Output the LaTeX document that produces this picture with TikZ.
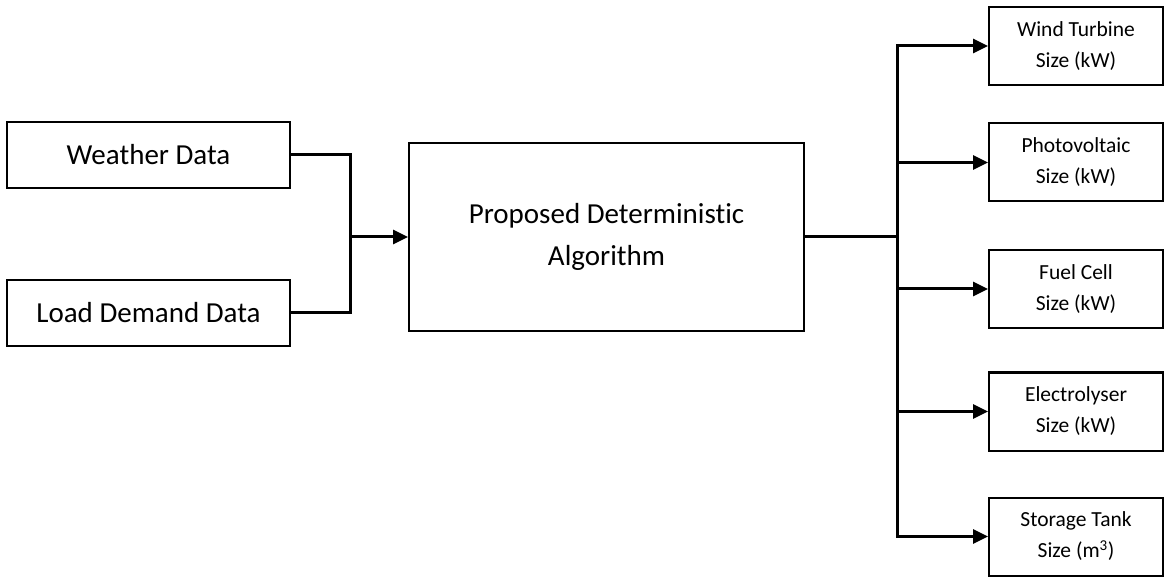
\documentclass[tikz,border=0pt]{standalone}
\usepackage{fontspec}
\setmainfont{Carlito}[Ligatures={NoCommon,NoContextual}]
\usetikzlibrary{arrows.meta}
\tikzset{
  box/.style={draw, line width=2pt, rectangle, align=center, inner sep=0pt},
  bigbox/.style={box, font=\fontsize{29}{42}\selectfont},
  outbox/.style={box, minimum width=174, minimum height=78, font=\fontsize{21.5}{31}\selectfont},
  wire/.style={line width=3pt},
  arrowwire/.style={wire, -{Triangle[length=15pt, width=14pt]}},
}
\begin{document}
\begin{tikzpicture}[x=1pt, y=-1pt]
  \useasboundingbox (0,0) rectangle (1165,577);

  % inputs
  \node[bigbox, minimum width=283, minimum height=66] (weather) at (148.5,155) {Weather Data};
  \node[bigbox, minimum width=283, minimum height=66] (load) at (148.5,313) {Load Demand Data};

  % algorithm (kern keeps the t and i apart)
  \node[bigbox, minimum width=395, minimum height=188] (algo) at (606.5,237) {Proposed Determinist\kern0pt ic\\Algorithm};

  % outputs
  \node[outbox] (wind)  at (1076,46)    {Wind Turbine\\Size (kW)};
  \node[outbox] (pv)    at (1076,162.5) {Photovoltaic\\Size (kW)};
  \node[outbox] (fuel)  at (1076,289)   {Fuel Cell\\Size (kW)};
  \node[outbox] (elec)  at (1076,411.5) {Electrolyser\\Size (kW)};
  \node[outbox] (store) at (1076,536.5) {Storage Tank\\Size (m\textsuperscript{3})};

  % junctions
  \coordinate (jin) at (350,237);
  \coordinate (jout) at (897,237);

  % input wiring
  \draw[wire] (weather.east) -| (jin);
  \draw[wire] (load.east) -| (jin);
  \draw[arrowwire] (jin) -- (algo.west);

  % output wiring
  \draw[wire] (algo.east) -- (jout);
  \draw[wire, line cap=rect] (jout |- wind.west) -- (jout |- store.west);
  \foreach \n in {wind, pv, fuel, elec, store}
    \draw[arrowwire] (jout |- \n.west) -- (\n.west);
\end{tikzpicture}
\end{document}
